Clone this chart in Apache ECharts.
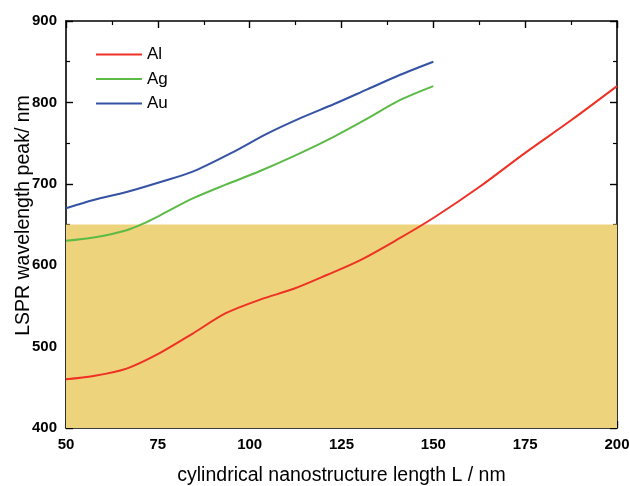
<!DOCTYPE html>
<html>
<head>
<meta charset="utf-8">
<script src="https://cdn.jsdelivr.net/npm/echarts@6/dist/echarts.min.js"></script>
<style>html,body{margin:0;padding:0;background:#fff}#c{width:630px;height:486px}</style>
</head>
<body>
<div id="c"></div>
<script>
const xAl = [50, 57.5, 66.5, 75.5, 84.5, 93.5, 103, 112, 121, 130, 140, 150, 162.5, 175, 187.5, 200];
const yAl = [460, 464, 473, 492, 516, 541, 558, 571, 588, 606, 631, 658, 696, 738, 778, 820];
const xAg = [50, 57.5, 66.5, 71, 75.5, 84.5, 93.5, 103, 113.5, 123, 132, 141, 150];
const yAg = [630, 634, 643, 651, 661, 682, 699, 716, 737, 758, 780, 803, 820];
const xAu = [50, 57.5, 66.5, 75.5, 84.5, 95.5, 104.5, 113.5, 123, 132, 141, 150];
const yAu = [670, 680, 690, 702, 715, 739, 761, 780, 798, 816, 834, 850];
const bandRange = [400, 650];
const xTicks = {min: 50, max: 200, step: 25};
const yTicks = {min: 400, max: 900, step: 100};

const pairs = (xs, ys) => xs.map((x, i) => [x, ys[i]]);
const font = '"Liberation Sans", Arial, sans-serif';
const axisCommon = {
  axisLine: {show: true, lineStyle: {color: '#000', width: 1.6}},
  axisTick: {show: true, inside: true, length: 7, lineStyle: {color: '#000', width: 1.4}},
  minorTick: {show: true, splitNumber: 2, length: 4, lineStyle: {color: '#000', width: 1.2}},
  splitLine: {show: false}
};
const lineSeries = (name, xs, ys, color) => ({
  type: 'line', name: name, data: pairs(xs, ys), smooth: 0.3,
  showSymbol: false, symbol: 'none', z: 3,
  lineStyle: {color: color, width: 2}, itemStyle: {color: color}
});
const chart = echarts.init(document.getElementById('c'));
chart.setOption({
  animation: false,
  grid: {left: 66, right: 13, top: 21, bottom: 58, outerBoundsMode: 'none'},
  legend: {
    orient: 'vertical', left: 91, top: 41, itemWidth: 46, itemHeight: 2, itemGap: 7.5,
    icon: 'rect',
    textStyle: {fontFamily: font, fontSize: 17, color: '#000'},
    data: ['Al', 'Ag', 'Au']
  },
  xAxis: [
    Object.assign({type: 'value', min: xTicks.min, max: xTicks.max, interval: xTicks.step,
      position: 'bottom',
      axisLabel: {fontFamily: font, fontWeight: 'bold', fontSize: 15, color: '#000', margin: 9},
      name: 'cylindrical nanostructure length L / nm', nameLocation: 'middle', nameGap: 38,
      nameMoveOverlap: false,
      nameTextStyle: {fontFamily: font, fontSize: 19.5, color: '#000'}}, axisCommon),
    Object.assign({type: 'value', min: xTicks.min, max: xTicks.max, interval: xTicks.step,
      position: 'top', axisLabel: {show: false}}, axisCommon)
  ],
  yAxis: [
    Object.assign({type: 'value', min: yTicks.min, max: yTicks.max, interval: yTicks.step,
      position: 'left',
      axisLabel: {fontFamily: font, fontWeight: 'bold', fontSize: 15, color: '#000', margin: 9},
      name: 'LSPR wavelength peak/ nm', nameLocation: 'middle', nameGap: 32, nameRotate: 90,
      nameMoveOverlap: false,
      nameTextStyle: {fontFamily: font, fontSize: 19.5, color: '#000', padding: [0, 0, 0, 18]}}, axisCommon),
    Object.assign({type: 'value', min: yTicks.min, max: yTicks.max, interval: yTicks.step,
      position: 'right', axisLabel: {show: false}}, axisCommon)
  ],
  series: [
    {type: 'line', name: 'band', data: [], z: 0, silent: true,
      markArea: {silent: true, itemStyle: {color: '#EDD37C', opacity: 1},
        data: [[{yAxis: bandRange[0]}, {yAxis: bandRange[1]}]]}},
    lineSeries('Al', xAl, yAl, '#EE3124'),
    lineSeries('Ag', xAg, yAg, '#5CBA46'),
    lineSeries('Au', xAu, yAu, '#3553A4')
  ]
});
</script>
</body>
</html>
